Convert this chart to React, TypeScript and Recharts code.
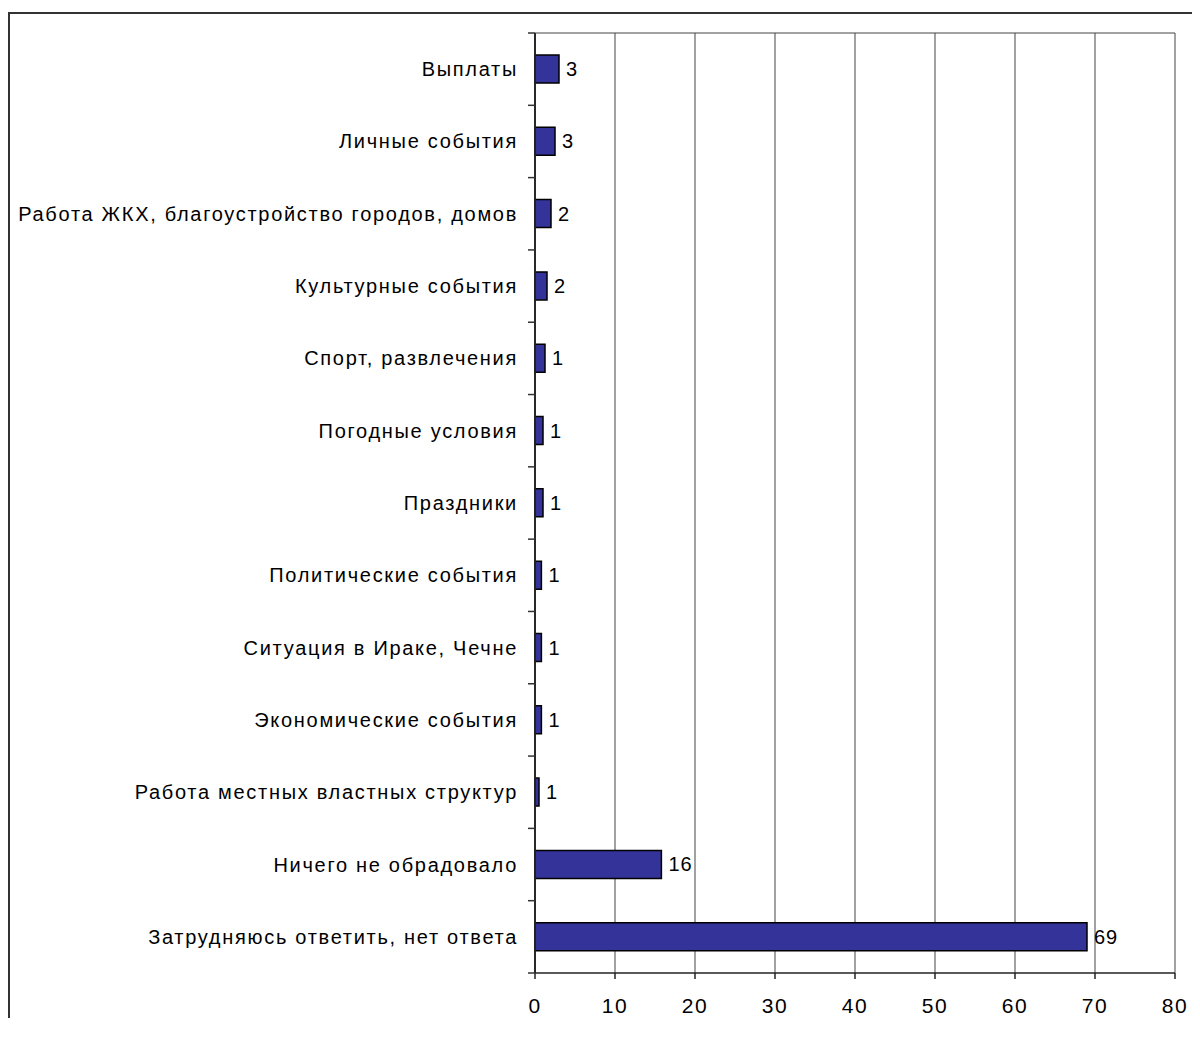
import React from "react";
import {
  BarChart,
  Bar,
  XAxis,
  YAxis,
  CartesianGrid,
  LabelList,
  ReferenceLine,
} from "recharts";

const categories = [
  "Выплаты",
  "Личные события",
  "Работа ЖКХ, благоустройство городов, домов",
  "Культурные события",
  "Спорт, развлечения",
  "Погодные условия",
  "Праздники",
  "Политические события",
  "Ситуация в Ираке, Чечне",
  "Экономические события",
  "Работа местных властных структур",
  "Ничего не обрадовало",
  "Затрудняюсь ответить, нет ответа",
];

// bar lengths as drawn (labels show rounded values)
const values = [3, 2.5, 2, 1.5, 1.25, 1, 1, 0.8, 0.8, 0.8, 0.5, 15.8, 69];

const xTicks = [0, 10, 20, 30, 40, 50, 60, 70, 80];

const data = categories.map((name, i) => ({ name, value: values[i] }));

const FONT = "'Liberation Sans', Arial, sans-serif";

function CategoryTick(props: any) {
  const { x, y, payload, index } = props;
  const half = payload.offset ?? 36;
  const ax = x + 8; // axis line position
  return (
    <g>
      <text
        x={ax - 17}
        y={y}
        textAnchor="end"
        dominantBaseline="central"
        fontSize={20}
        letterSpacing={1.7}
        fontFamily={FONT}
        fill="#000"
      >
        {payload.value}
      </text>
      {index === 0 && (
        <line x1={ax - 7} x2={ax} y1={y - half} y2={y - half} stroke="#333" strokeWidth={1.5} />
      )}
      <line x1={ax - 7} x2={ax} y1={y + half} y2={y + half} stroke="#333" strokeWidth={1.5} />
    </g>
  );
}

export default function App() {
  return (
    <div style={{ position: "relative", width: 1192, height: 1010 }}>
      <div
        style={{
          position: "absolute",
          left: 0,
          top: 4,
          width: 1192,
          height: 1006,
          borderLeft: "2px solid #333",
          borderTop: "2px solid #333",
          boxSizing: "border-box",
        }}
      />
      <div style={{ position: "absolute", left: 0, top: 0 }}>
        <BarChart
          width={1192}
          height={1020}
          data={data}
          layout="vertical"
          margin={{ top: 25, right: 25, bottom: 15, left: 0 }}
          barSize={28}
        >
          <CartesianGrid
            horizontal
            vertical
            stroke="#444"
            strokeWidth={1}
            horizontalCoordinatesGenerator={({ offset }: any) => [offset.top]}
          />
          <XAxis
            type="number"
            domain={[0, 80]}
            ticks={xTicks}
            interval={0}
            height={40}
            stroke="#222"
            strokeWidth={1.5}
            tickSize={6}
            tickMargin={19}
            tick={{ fontSize: 21, letterSpacing: 1.5, fontFamily: FONT, fill: "#000" }}
          />
          <YAxis
            type="category"
            dataKey="name"
            width={527}
            interval={0}
            axisLine={{ stroke: "#222", strokeWidth: 1.5 }}
            tickLine={false}
            tick={<CategoryTick />}
          />
          <ReferenceLine x={0} stroke="#222" strokeWidth={1.5} />
          <Bar
            dataKey="value"
            fill="#333399"
            stroke="#000"
            strokeWidth={1.5}
            isAnimationActive={false}
          >
            <LabelList
              dataKey="value"
              position="right"
              offset={7}
              formatter={(v: any) => Math.round(Number(v))}
              style={{ fontSize: 20, letterSpacing: 1, fontFamily: FONT, fill: "#000" }}
            />
          </Bar>
        </BarChart>
      </div>
    </div>
  );
}
